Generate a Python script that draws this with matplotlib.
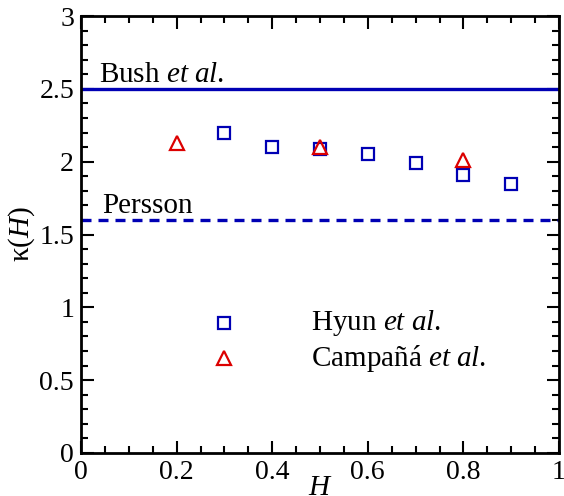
import matplotlib
matplotlib.use("Agg")
import matplotlib.pyplot as plt
from matplotlib.ticker import MultipleLocator, FuncFormatter

plt.rcParams["font.family"] = ["Liberation Serif", "DejaVu Serif"]
plt.rcParams["mathtext.fontset"] = "custom"
plt.rcParams["mathtext.rm"] = "Liberation Serif"
plt.rcParams["mathtext.it"] = "Liberation Serif:italic"

# Hyun et al. (squares)
hyun_h = [0.3, 0.4, 0.5, 0.6, 0.7, 0.8, 0.9]
hyun_k = [2.2, 2.1, 2.09, 2.05, 1.99, 1.91, 1.85]

# Campana et al. (triangles)
camp_h = [0.2, 0.5, 0.8]
camp_k = [2.13, 2.1, 2.01]

bush_k = 2.5
persson_k = 1.6

BLUE = "#0000b4"
RED = "#dc0000"
FS = 21

fig = plt.figure(figsize=(5.64, 4.96), dpi=100)
ax = fig.add_axes([81 / 564, 1 - 453 / 496, 478 / 564, 437 / 496])

ax.axhline(bush_k, color=BLUE, lw=2.4)
ax.axhline(persson_k, color=BLUE, lw=2.4, ls=(0, (3, 2.1)))

ax.plot(hyun_h, hyun_k, ls="none", marker="s", ms=9, mfc="none",
        mec=BLUE, mew=1.6)
ax.plot(camp_h, camp_k, ls="none", marker="^", ms=10, mfc="none",
        mec=RED, mew=1.6)

ax.text(0.038, 2.545, r"Bush $\mathit{et\ al.}$", fontsize=FS)
ax.text(0.045, 1.65, "Persson", fontsize=FS)

# legend drawn by hand to match the original placement
ax.plot([0.3], [0.89], ls="none", marker="s", ms=9, mfc="none",
        mec=BLUE, mew=1.6)
ax.plot([0.3], [0.65], ls="none", marker="^", ms=10, mfc="none",
        mec=RED, mew=1.6)
ax.text(0.482, 0.89, r"Hyun $\mathit{et\ al.}$", fontsize=FS, va="center")
ax.text(0.482, 0.65, r"Campañá $\mathit{et\ al.}$", fontsize=FS, va="center")

ax.set_xlim(0, 1)
ax.set_ylim(0, 3)
ax.xaxis.set_major_locator(MultipleLocator(0.2))
ax.xaxis.set_minor_locator(MultipleLocator(0.05))
ax.yaxis.set_major_locator(MultipleLocator(0.5))
ax.yaxis.set_minor_locator(MultipleLocator(0.1))
ax.xaxis.set_major_formatter(FuncFormatter(lambda v, p: f"{v:g}"))
ax.yaxis.set_major_formatter(FuncFormatter(lambda v, p: f"{v:g}"))

ax.tick_params(which="both", direction="in", top=True, right=True,
               labelsize=20, width=1.5, pad=5)
ax.tick_params(which="major", length=9)
ax.tick_params(which="minor", length=5)
for s in ax.spines.values():
    s.set_linewidth(2)

ax.set_xlabel(r"$\mathit{H}$", fontsize=FS, labelpad=-7)
ax.set_ylabel(r"κ($\mathit{H}$)", fontsize=FS, labelpad=2)

fig.savefig("out.png", dpi=100)
